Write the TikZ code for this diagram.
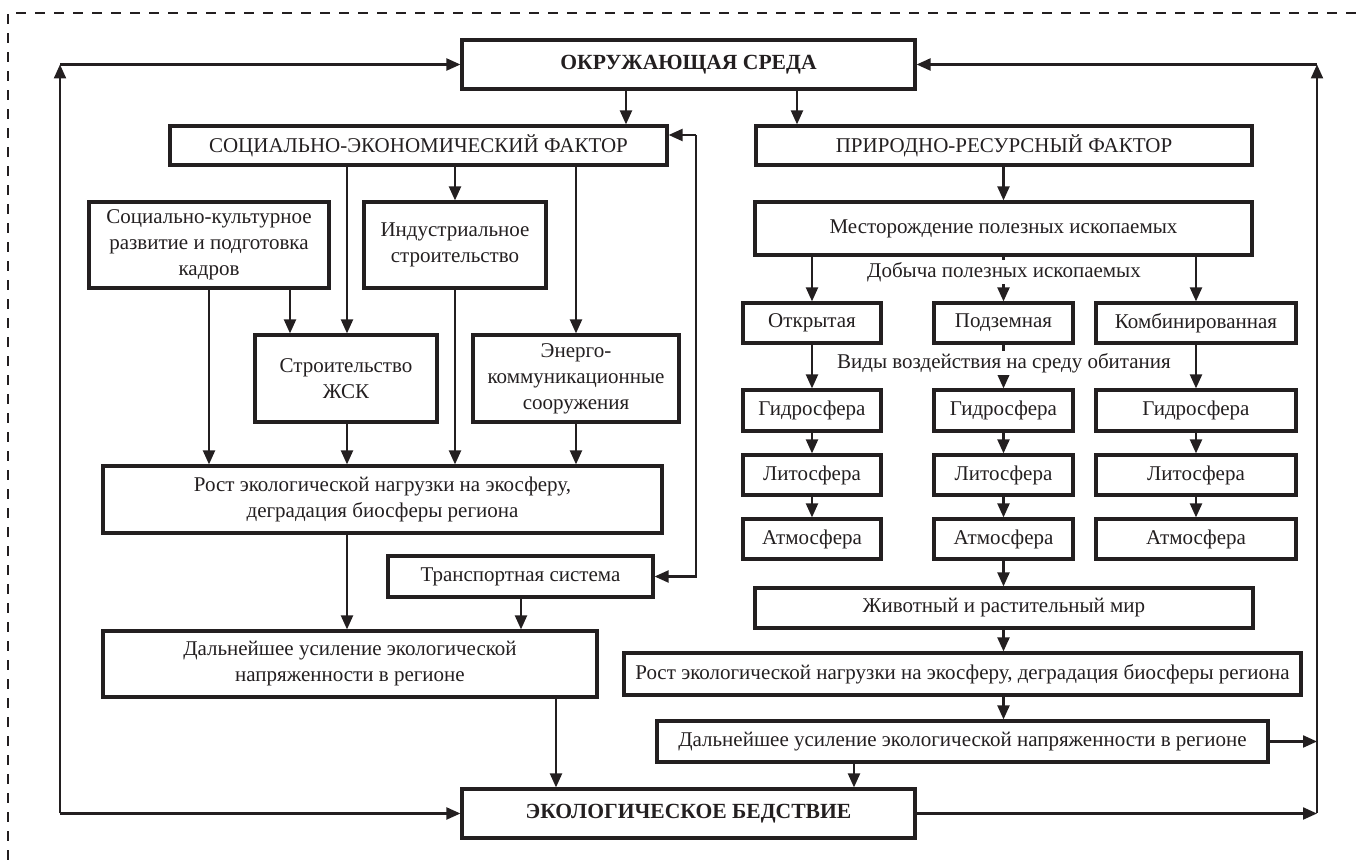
\documentclass[tikz,border=0pt]{standalone}
\usepackage{fontspec}
\setmainfont{Liberation Serif}
\usetikzlibrary{arrows.meta}
\definecolor{ink}{RGB}{35,31,32}
\newcommand\vdn[3]{\draw[arr] (#1.south -| #3,0) -- (#2.north -| #3,0);}
\begin{document}
\begin{tikzpicture}[x=0.5pt,y=-0.5pt,
  box/.style={draw=ink, line width=1.6pt, text=ink, inner sep=1pt, align=center,
    font=\fontsize{10.5}{13}\selectfont},
  bbox/.style={box, font=\fontsize{10.8}{13}\selectfont\bfseries},
  arr/.style={draw=ink, line width=1.1pt, -{Triangle[length=7pt,width=6pt]}},
  lbl/.style={fill=white, text=ink, inner sep=1pt, font=\fontsize{10.5}{13}\selectfont}]
\useasboundingbox (0,0) rectangle (1362,860);
% dashed frame
\draw[ink, line width=0.7pt, dash pattern=on 5pt off 4.5pt] (8,860) -- (8,13) -- (1362,13);

% main boxes
\node[bbox, minimum width=226.5pt, minimum height=24.5pt] (env) at (688.5,64.5) {ОКРУЖАЮЩАЯ СРЕДА};
\node[box, minimum width=248.5pt, minimum height=19.5pt] (soc) at (418.5,145.5) {СОЦИАЛЬНО-ЭКОНОМИЧЕСКИЙ ФАКТОР};
\node[box, minimum width=248pt, minimum height=19.5pt] (nat) at (1004,145.5) {ПРИРОДНО-РЕСУРСНЫЙ ФАКТОР};

% left branch
\node[box, minimum width=120pt, minimum height=43pt] (cult) at (209,245) {Социально-культурное\\развитие и подготовка\\кадров};
\node[box, minimum width=91pt, minimum height=43pt] (ind) at (455,245) {Индустриальное\\строительство};
\node[box, minimum width=91pt, minimum height=43.5pt] (zsk) at (346,378.5) {Строительство\\ЖСК};
\node[box, minimum width=103pt, minimum height=43.5pt] (en) at (576,378.5) {Энерго-\\коммуникационные\\сооружения};
\node[box, minimum width=279.5pt, minimum height=33.5pt] (rostL) at (382.5,499.5) {Рост экологической нагрузки на экосферу,\\деградация биосферы региона};
\node[box, minimum width=132.5pt, minimum height=20.5pt] (trans) at (520.5,576.5) {Транспортная система};
\node[box, minimum width=247pt, minimum height=33pt] (dalL) at (350,664) {Дальнейшее усиление экологической\\напряженности в регионе};
\node[bbox, minimum width=226.5pt, minimum height=24.5pt] (ecol) at (688.5,813.5) {ЭКОЛОГИЧЕСКОЕ БЕДСТВИЕ};

% right branch
\node[box, minimum width=248.5pt, minimum height=26.5pt] (mest) at (1003.5,228.5) {Месторождение полезных ископаемых};
\node[box, minimum width=69pt, minimum height=20pt] (open) at (812,323) {Открытая};
\node[box, minimum width=69.5pt, minimum height=20pt] (under) at (1003.5,323) {Подземная};
\node[box, minimum width=100pt, minimum height=20pt] (comb) at (1196,323) {Комбинированная};
\node[box, minimum width=69pt, minimum height=20.5pt] (h1) at (812,410.5) {Гидросфера};
\node[box, minimum width=69.5pt, minimum height=20.5pt] (h2) at (1003.5,410.5) {Гидросфера};
\node[box, minimum width=100pt, minimum height=20.5pt] (h3) at (1196,410.5) {Гидросфера};
\node[box, minimum width=69pt, minimum height=20pt] (l1) at (812,475) {Литосфера};
\node[box, minimum width=69.5pt, minimum height=20pt] (l2) at (1003.5,475) {Литосфера};
\node[box, minimum width=100pt, minimum height=20pt] (l3) at (1196,475) {Литосфера};
\node[box, minimum width=69pt, minimum height=20pt] (a1) at (812,539) {Атмосфера};
\node[box, minimum width=69.5pt, minimum height=20pt] (a2) at (1003.5,539) {Атмосфера};
\node[box, minimum width=100pt, minimum height=20pt] (a3) at (1196,539) {Атмосфера};
\node[box, minimum width=249pt, minimum height=20pt] (fauna) at (1004,608) {Животный и растительный мир};
\node[box, minimum width=338.5pt, minimum height=21pt] (rostR) at (962.5,674) {Рост экологической нагрузки на экосферу, деградация биосферы региона};
\node[box, minimum width=305.5pt, minimum height=20.5pt] (dalR) at (962.5,741.5) {Дальнейшее усиление экологической напряженности в регионе};

% top connectors
\vdn{env}{soc}{626}
\vdn{env}{nat}{797}
\vdn{soc}{zsk}{347}
\vdn{soc}{ind}{455}
\vdn{soc}{en}{576}
\vdn{cult}{rostL}{209}
\vdn{cult}{zsk}{290}
\vdn{zsk}{rostL}{347}
\vdn{ind}{rostL}{455}
\vdn{en}{rostL}{576}
\vdn{rostL}{dalL}{347}
\vdn{trans}{dalL}{521}
\vdn{dalL}{ecol}{556}

% transport loop
\coordinate (ts) at (696,135);
\coordinate (tt) at (trans.east -| ts);
\draw[arr] (ts) -- (soc.east |- ts);
\draw[arr] (ts) -- (tt) -- (trans.east);

% right branch connectors
\vdn{nat}{mest}{1003.5}
\vdn{mest}{open}{812}
\vdn{mest}{under}{1003.5}
\vdn{mest}{comb}{1196}
\vdn{open}{h1}{812}
\vdn{under}{h2}{1003.5}
\vdn{comb}{h3}{1196}
\vdn{h1}{l1}{812}
\vdn{h2}{l2}{1003.5}
\vdn{h3}{l3}{1196}
\vdn{l1}{a1}{812}
\vdn{l2}{a2}{1003.5}
\vdn{l3}{a3}{1196}
\vdn{a2}{fauna}{1003.5}
\vdn{fauna}{rostR}{1003.5}
\vdn{rostR}{dalR}{1003.5}
\vdn{dalR}{ecol}{854}

\node[lbl] (dob) at (1004,272) {Добыча полезных ископаемых};
\node[lbl] (vid) at (1004,363) {Виды воздействия на среду обитания};

% outer loops
\coordinate (tl) at (env.west -| 60,0);
\coordinate (bl) at (ecol.west -| 60,0);
\coordinate (tr) at (env.east -| 1317,0);
\coordinate (br) at (ecol.east -| 1317,0);
\draw[arr] (bl) -- (tl);
\draw[arr] (tl) -- (env.west);
\draw[arr] (bl) -- (ecol.west);
\draw[arr] (ecol.east) -- (br);
\draw[arr] (br) -- (tr);
\draw[arr] (tr) -- (env.east);
\draw[arr] (dalR.east) -- (dalR.east -| br);
\end{tikzpicture}
\end{document}
